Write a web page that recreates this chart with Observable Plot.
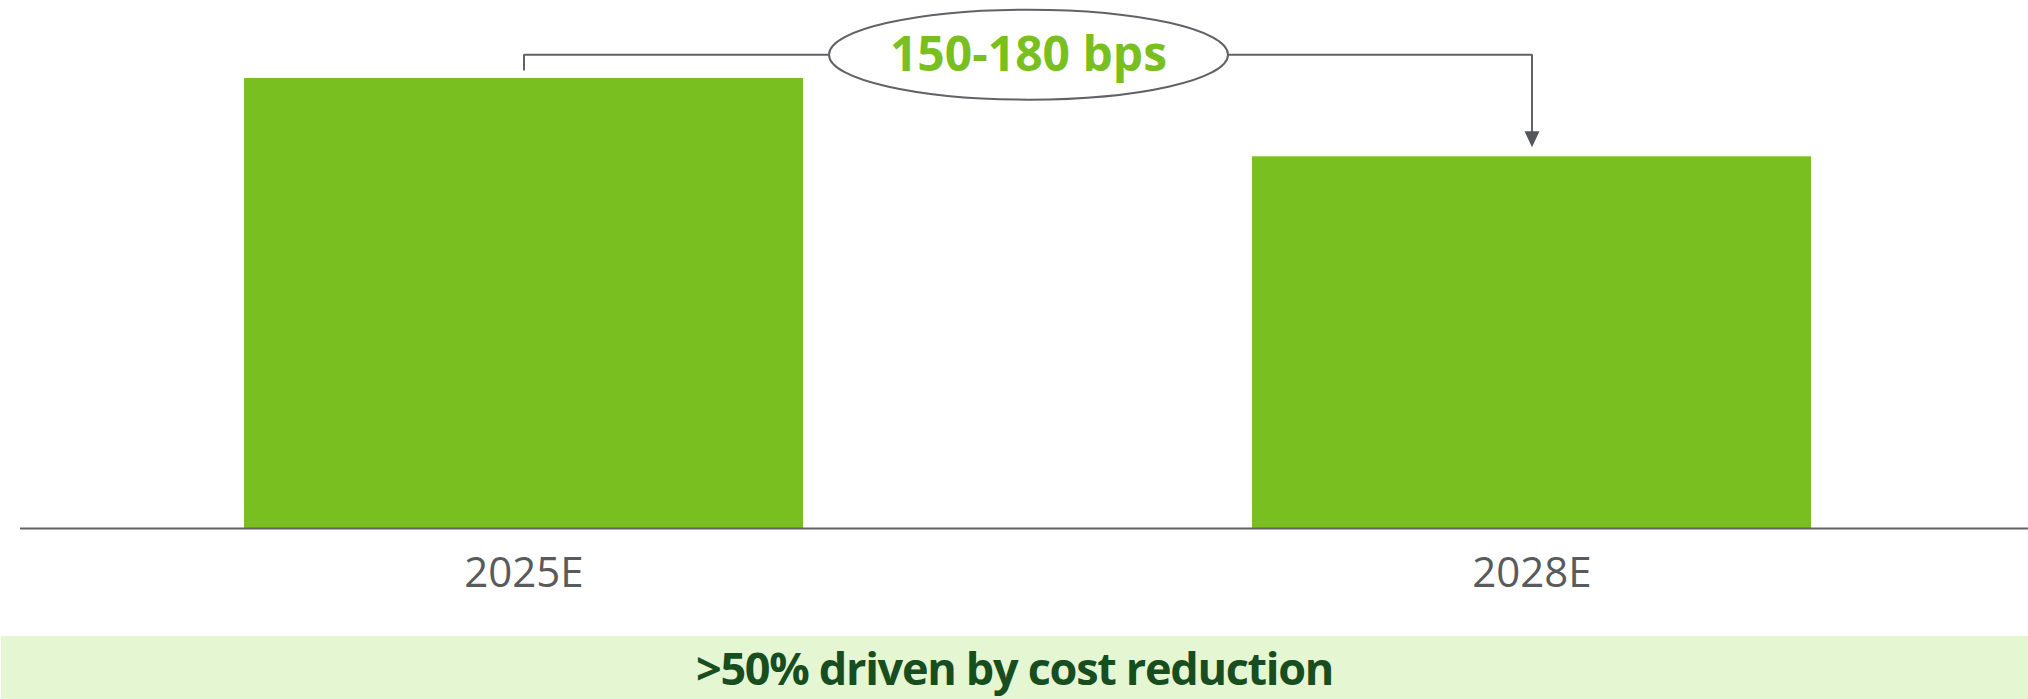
<!DOCTYPE html>
<html>
<head>
<meta charset="utf-8">
<script src="https://cdn.jsdelivr.net/npm/d3@7"></script>
<script src="https://cdn.jsdelivr.net/npm/@observablehq/plot@0.6"></script>
<style>
  html, body { margin: 0; padding: 0; background: #fff; }
  #wrap { width: 2028px; }
  #caption {
    height: 63px;
    margin-left: 1px;
    background: #e4f6d2;
    color: #174d1f;
    font-family: "Open Sans", sans-serif;
    font-weight: 700;
    font-size: 45px;
    letter-spacing: -1.3px;
    line-height: 63px;
    text-align: center;
    white-space: nowrap;
    overflow: hidden;
  }
</style>
</head>
<body>
<div id="wrap">
  <div id="chart"></div>
  <div id="caption"></div>
</div>
<script>
// ---- data ----
const categories = ["2025E", "2028E"];
const values = [100, 82.6];           // relative bar heights (no value axis shown)
const changeLabel = "150-180 bps";
const captionText = ">50% driven by cost reduction";

const data = categories.map((c, i) => ({ cat: c, value: values[i] }));

// annotation levels derived from the data
const bracketLevel = values[0] + 5.3;
const bracketStart = values[0] + 1.8;
const arrowTip = values[1] + 2.1;

const bracket = [
  { x: categories[0], y: bracketStart },
  { x: categories[0], y: bracketLevel },
  { x: categories[1], y: bracketLevel },
  { x: categories[1], y: arrowTip + 3 }
];

const ellipseSymbol = {
  draw(ctx) {
    const rx = 199.5, ry = 45, k = 0.5523;
    ctx.moveTo(rx, 0);
    ctx.bezierCurveTo(rx, k * ry, k * rx, ry, 0, ry);
    ctx.bezierCurveTo(-k * rx, ry, -rx, k * ry, -rx, 0);
    ctx.bezierCurveTo(-rx, -k * ry, -k * rx, -ry, 0, -ry);
    ctx.bezierCurveTo(k * rx, -ry, rx, -k * ry, rx, 0);
    ctx.closePath();
  }
};
const downTriangle = {
  draw(ctx) {
    ctx.moveTo(0, 0);
    ctx.lineTo(-7.5, -16);
    ctx.lineTo(7.5, -16);
    ctx.closePath();
  }
};

const gray = "#606266";

const chart = Plot.plot({
  width: 2028,
  height: 636,
  marginLeft: 20,
  marginRight: -8,
  marginTop: 78,
  marginBottom: 108,
  style: { background: "transparent", overflow: "visible" },
  x: { domain: categories, paddingInner: 0.4454, paddingOuter: 0.2227, axis: null },
  y: { domain: [0, 100], axis: null },
  marks: [
    Plot.barY(data, { x: "cat", y: "value", fill: "#7abf20" }),
    Plot.ruleY([0], { stroke: gray, strokeWidth: 2 }),
    Plot.text(data, {
      x: "cat", y: () => 0, text: "cat", dy: 45, lineAnchor: "middle",
      fontSize: 42, fill: "#595a5c", fontFamily: "Open Sans", fontWeight: 400
    }),
    Plot.line(bracket, { x: "x", y: "y", stroke: gray, strokeWidth: 2, strokeLinejoin: "miter", strokeLinecap: "butt" }),
    Plot.dot([{ y: bracketLevel }], { y: "y", r: 1, symbol: ellipseSymbol, fill: "white", stroke: gray, strokeWidth: 2 }),
    Plot.text([{ y: bracketLevel, label: changeLabel }], {
      y: "y", text: "label", lineAnchor: "middle", dy: 1,
      fontSize: 48, fontWeight: 700, fontFamily: "Open Sans", fill: "#7abf20"
    }),
    Plot.dot([{ x: categories[1], y: arrowTip }], { x: "x", y: "y", r: 1, symbol: downTriangle, fill: "#55575b", stroke: "none" })
  ]
});
document.getElementById("chart").appendChild(chart);
document.getElementById("caption").textContent = captionText;
</script>
</body>
</html>
